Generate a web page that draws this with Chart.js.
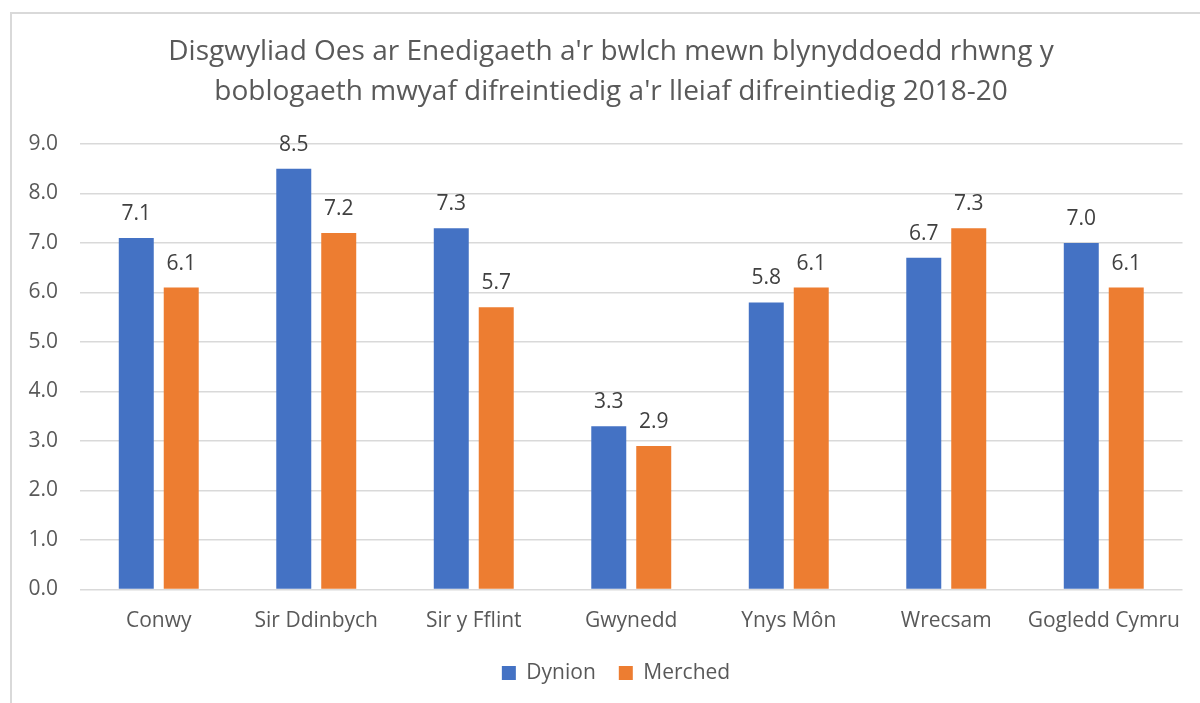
<!DOCTYPE html>
<html>
<head>
<meta charset="utf-8">
<script src="https://cdn.jsdelivr.net/npm/chart.js@4"></script>
<style>
  body { margin: 0; background: #fff; overflow: hidden; }
  #wrap { position: relative; width: 1200px; height: 703px; }
  #frame {
    position: absolute; left: 10px; top: 12px; width: 1300px; height: 800px;
    border: 2px solid #d9d9d9; box-sizing: border-box; pointer-events: none;
  }
</style>
</head>
<body>
<div id="wrap">
  <div id="frame"></div>
  <canvas id="chart" width="1200" height="703"></canvas>
</div>
<script>
  // Life expectancy gap (years) per area, 2018-20
  const areas = ['Conwy', 'Sir Ddinbych', 'Sir y Fflint', 'Gwynedd', 'Ynys Môn', 'Wrecsam', 'Gogledd Cymru'];
  const dynion = [7.1, 8.5, 7.3, 3.3, 5.8, 6.7, 7.0];
  const merched = [6.1, 7.2, 5.7, 2.9, 6.1, 7.3, 6.1];
  const seriesNames = ['Dynion', 'Merched'];
  const titleLines = [
    "Disgwyliad Oes ar Enedigaeth a'r bwlch mewn blynyddoedd rhwng y",
    "boblogaeth mwyaf difreintiedig a'r lleiaf difreintiedig 2018-20",
  ];

  const colors = {
    blue: '#4472C4',
    orange: '#ED7D31',
    text: '#595959',
    label: '#404040',
    grid: '#d9d9d9',
  };
  const fontFamily = "'Open Sans', 'Liberation Sans', sans-serif";
  const fontSize = 21;

  // Value labels above each bar
  const barLabels = {
    id: 'barLabels',
    afterDatasetsDraw(chart) {
      const ctx = chart.ctx;
      ctx.save();
      ctx.font = `${fontSize}px ${fontFamily}`;
      ctx.fillStyle = colors.label;
      ctx.textAlign = 'center';
      ctx.textBaseline = 'alphabetic';
      chart.data.datasets.forEach((ds, i) => {
        chart.getDatasetMeta(i).data.forEach((bar, j) => {
          ctx.fillText(ds.data[j].toFixed(1), bar.x, bar.y - 18);
        });
      });
      ctx.restore();
    },
  };

  // Nudge title and legend so they sit over the middle of the plot area
  const centreBlocks = {
    id: 'centreBlocks',
    beforeDraw(chart) {
      if (chart._centred) return;
      if (chart.legend) chart.legend.left += 48;
      if (chart.titleBlock) chart.titleBlock.left += 38;
      chart._centred = true;
    },
  };

  new Chart(document.getElementById('chart'), {
    type: 'bar',
    data: {
      labels: areas,
      datasets: [
        { label: seriesNames[0], data: dynion, backgroundColor: colors.blue },
        { label: seriesNames[1], data: merched, backgroundColor: colors.orange },
      ],
    },
    options: {
      responsive: false,
      animation: false,
      layout: { padding: { left: 0, right: 16, top: 14, bottom: 9.5 } },
      datasets: {
        // 35px bars with a 10px gap inside each category
        bar: { categoryPercentage: 0.571, barPercentage: 0.778 },
      },
      plugins: {
        title: {
          display: true,
          text: titleLines,
          color: colors.text,
          font: { family: fontFamily, size: 28, weight: 'normal', lineHeight: 40 / 28 },
          padding: { top: 18, bottom: 32 },
        },
        legend: {
          position: 'bottom',
          labels: {
            color: colors.text,
            font: { family: fontFamily, size: fontSize },
            boxWidth: 14,
            boxHeight: 14,
            padding: 23,
          },
        },
        tooltip: { enabled: false },
      },
      scales: {
        x: {
          afterFit: (scale) => { scale.height = 50; },
          grid: { display: false, drawTicks: false },
          border: { display: false },
          ticks: {
            color: colors.text,
            font: { family: fontFamily, size: fontSize },
            padding: 19,
            maxRotation: 0,
            minRotation: 0,
            autoSkip: false,
          },
        },
        y: {
          min: 0,
          max: 9,
          afterFit: (scale) => { scale.width = 80; },
          grid: { color: colors.grid, lineWidth: 1.5, drawTicks: false },
          border: { display: false },
          ticks: {
            stepSize: 1,
            padding: 22,
            color: colors.text,
            font: { family: fontFamily, size: fontSize },
            callback: (v) => v.toFixed(1),
          },
        },
      },
    },
    plugins: [barLabels, centreBlocks],
  });
</script>
</body>
</html>
